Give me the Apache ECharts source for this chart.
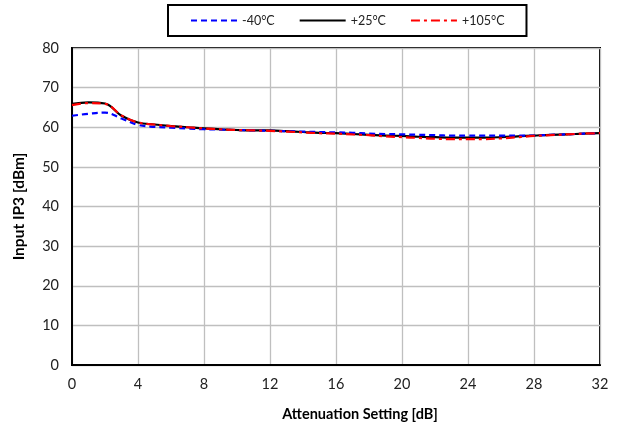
<!DOCTYPE html>
<html><head><meta charset="utf-8">
<script src="https://cdn.jsdelivr.net/npm/echarts@6/dist/echarts.min.js"></script>
<style>html,body{margin:0;padding:0;background:#fff}#c{width:618px;height:430px}</style>
</head><body><div id="c"></div>
<script>
const atten = [0,1,2,3,4,5,6,7,8,9,10,11,12,13,14,15,16,17,18,19,20,21,22,23,24,25,26,27,28,29,30,31,32];
const seriesNames = ['-40°C', '+25°C', '+105°C'];
const iip3_m40 = [62.9,63.4,63.7,62.2,60.6,60.1,59.9,59.7,59.5,59.4,59.3,59.2,59.1,59.0,58.9,58.8,58.7,58.6,58.4,58.3,58.2,58.1,58.0,57.9,57.9,57.9,57.9,57.9,57.9,58.1,58.2,58.4,58.5];
const iip3_p25 = [65.9,66.3,66.0,62.9,61.2,60.7,60.3,60.0,59.7,59.5,59.3,59.2,59.2,59.0,58.8,58.6,58.5,58.3,58.1,57.9,57.8,57.6,57.5,57.4,57.4,57.4,57.5,57.7,57.9,58.1,58.2,58.4,58.5];
const iip3_p105 = [65.6,66.1,65.9,63.0,61.2,60.7,60.3,60.0,59.7,59.5,59.3,59.2,59.1,58.9,58.7,58.5,58.4,58.2,58.0,57.7,57.5,57.3,57.1,57.0,57.0,57.0,57.2,57.5,57.8,58.0,58.2,58.4,58.5];
const xTicks = {min:0, max:32, interval:4};
const yTicks = {min:0, max:80, interval:10};

const pair = (ys) => atten.map((x,i)=>[x, ys[i]]);
const font = 'Lato, "Open Sans", sans-serif';
const chart = echarts.init(document.getElementById('c'), null, {renderer:'canvas'});
chart.setOption({
  animation:false,
  backgroundColor:'#fff',
  textStyle:{fontFamily:font},
  legend:{
    top:5, left:168,
    itemWidth:46, itemHeight:10, itemGap:24,
    borderColor:'#000', borderWidth:2, padding:[9,22,9,22],
    itemStyle:{opacity:0},
    textStyle:{fontSize:12.5, color:'#222', fontFamily:font},
    data: seriesNames
  },
  grid:{left:72, right:18, top:48, bottom:65, show:true, borderColor:'#000', borderWidth:2, containLabel:false},
  xAxis:{
    type:'value', min:xTicks.min, max:xTicks.max, interval:xTicks.interval,
    name:'Attenuation Setting [dB]', nameLocation:'middle', nameGap:42,
    nameTextStyle:{fontSize:14.5, fontWeight:'bold', color:'#000', fontFamily:font, padding:[0,0,0,48]},
    axisLine:{show:true, lineStyle:{color:'#000', width:2}},
    axisTick:{show:false},
    axisLabel:{fontSize:14.5, color:'#222', margin:12},
    splitLine:{show:true, lineStyle:{color:'#bfbfbf', width:1.3}}
  },
  yAxis:{
    type:'value', min:yTicks.min, max:yTicks.max, interval:yTicks.interval,
    name:'Input IP3 [dBm]', nameLocation:'middle', nameGap:45, nameRotate:90,
    nameTextStyle:{fontSize:15.5, fontWeight:'bold', color:'#000', fontFamily:font},
    axisLine:{show:true, lineStyle:{color:'#000', width:2}},
    axisTick:{show:false},
    axisLabel:{fontSize:14.5, color:'#222', margin:13},
    splitLine:{show:true, lineStyle:{color:'#bfbfbf', width:1.3}}
  },
  series:[
    {name:seriesNames[0], type:'line', data:pair(iip3_m40), smooth:0.4, symbol:'none', z:3,
     lineStyle:{color:'#0000ff', width:2.2, type:[6,4]}, itemStyle:{color:'#0000ff'}},
    {name:seriesNames[1], type:'line', data:pair(iip3_p25), smooth:0.4, symbol:'none', z:2,
     lineStyle:{color:'#000', width:2.2, type:'solid'}, itemStyle:{color:'#000'}},
    {name:seriesNames[2], type:'line', data:pair(iip3_p105), smooth:0.4, symbol:'none', z:4,
     lineStyle:{color:'#ff0000', width:2.2, type:[9,4,3,4]}, itemStyle:{color:'#ff0000'}}
  ]
});
</script></body></html>
